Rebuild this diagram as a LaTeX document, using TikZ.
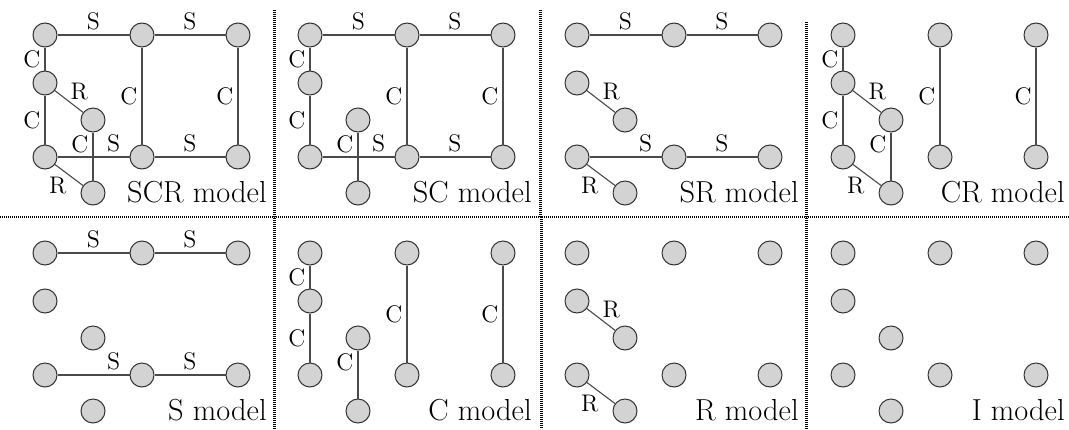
\documentclass[tikz,border=0pt]{standalone}
\usepackage{xcolor}
\usetikzlibrary{positioning}
\definecolor{vfill}{HTML}{D3D3D3}
\definecolor{linkgray}{HTML}{4A4A4A}

\begin{document}
\begin{tikzpicture}[x=0.5pt,y=-0.5pt,
  v/.style={circle,draw=black!80,fill=vfill,line width=0.5pt,minimum size=12pt,inner sep=0pt},
  lnk/.style={draw=linkgray,line width=0.55pt},
  lab/.style={font=\fontsize{12}{14}\selectfont,inner sep=2pt},
  mdl/.style={font=\fontsize{15.2}{18}\selectfont,anchor=base east,inner sep=0pt},
  sep/.style={line width=1.1pt,dash pattern=on 0.7pt off 0.3pt}]

\useasboundingbox (0,0) rectangle (1069,429);

% eight panels, nine vertices each in the same layout
\foreach \pn/\dx/\dy/\mname in {1/0/0/SCR,2/265/0/SC,3/532/0/SR,4/798/0/CR,
                                5/0/218/S,6/265/218/C,7/532/218/R,8/798/218/I}{
  \begin{scope}[shift={(45+\dx,35+\dy)}]
    \foreach \vn/\vx/\vy in {a/0/0,b/97/0,c/193/0,d/0/48,e/48/85,f/0/122,g/97/122,h/193/122,k/48/158}
      \node[v] (p\pn\vn) at (\vx,\vy) {};
    \node[mdl] (m\pn) at (222,167) {\mname\ model};
  \end{scope}
}

% S links
\foreach \pn in {1,2,3,5}{
  \draw[lnk] (p\pn a) -- node[lab,above]{S} (p\pn b);
  \draw[lnk] (p\pn b) -- node[lab,above]{S} (p\pn c);
  \draw[lnk] (p\pn f) -- node[lab,above,pos=0.78]{S} (p\pn g);
  \draw[lnk] (p\pn g) -- node[lab,above]{S} (p\pn h);
}

% C links
\foreach \pn in {1,2,4,6}{
  \draw[lnk] (p\pn a) -- node[lab,left]{C} (p\pn d);
  \draw[lnk] (p\pn d) -- node[lab,left]{C} (p\pn f);
  \draw[lnk] (p\pn b) -- node[lab,left]{C} (p\pn g);
  \draw[lnk] (p\pn c) -- node[lab,left]{C} (p\pn h);
  \draw[lnk] (p\pn e) -- node[lab,left,pos=0.25]{C} (p\pn k);
}

% R links
\foreach \pn in {1,3,4,7}{
  \draw[lnk] (p\pn d) -- node[lab,above right,inner sep=0.5pt]{R} (p\pn e);
  \draw[lnk] (p\pn f) -- node[lab,below left,inner sep=1pt]{R} (p\pn k);
}

% panel dividers
\draw[sep] (0,217) -- (1069,217);
\draw[sep] (274.5,10) -- (274.5,429);
\draw[sep] (540.5,10) -- (540.5,217);
\draw[sep] (541.5,217) -- (541.5,429);
\draw[sep] (806.5,22) -- (806.5,429);
\end{tikzpicture}
\end{document}
